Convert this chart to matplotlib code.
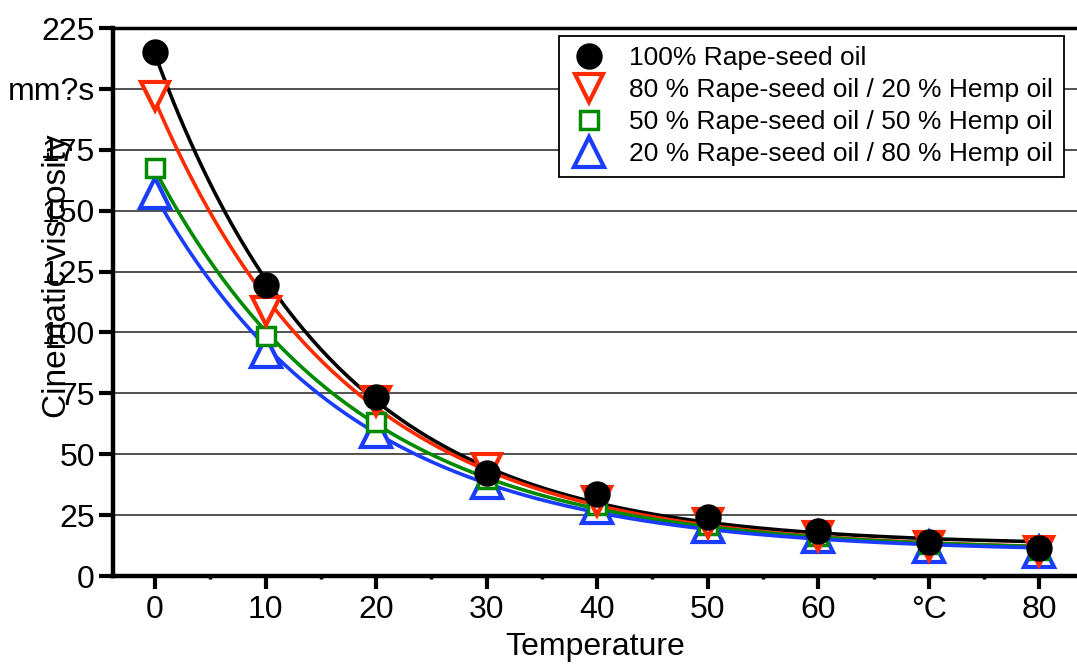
from matplotlib import pyplot as plt
from matplotlib.ticker import MultipleLocator
import numpy as np

# temperature in degC
temps = [0, 10, 20, 30, 40, 50, 60, 70, 80]

# kinematic viscosity mm2/s
rape100 = [215.1, 119.5, 73.3, 42.2, 33.8, 24.4, 18.3, 14.0, 11.4]
rape80 = [197.0, 109.0, 72.0, 44.5, 31.0, 21.8, 16.4, 12.3, 10.3]
rape50 = [167.5, 98.5, 63.2, 40.0, 29.0, 21.0, 16.5, 13.0, 10.8]
rape20 = [157.3, 92.0, 59.0, 38.2, 28.0, 20.0, 16.0, 12.0, 9.9]

labels = ["100% Rape-seed oil",
          "80 % Rape-seed oil / 20 % Hemp oil",
          "50 % Rape-seed oil / 50 % Hemp oil",
          "20 % Rape-seed oil / 80 % Hemp oil"]

yticks = [0, 25, 50, 75, 100, 125, 150, 175, 200, 225]
ytick_labels = ["0", "25", "50", "75", "100", "125", "150", "175", "mm?s", "225"]
xticks = [0, 10, 20, 30, 40, 50, 60, 70, 80]
xtick_labels = ["0", "10", "20", "30", "40", "50", "60", "°C", "80"]


def fit_decay(x, y):
    # y = a*exp(-b*x) + c, brute force over b, least squares for a and c
    x = np.asarray(x, float)
    y = np.asarray(y, float)
    best = None
    for b in np.linspace(0.005, 0.2, 400):
        A = np.column_stack([np.exp(-b * x), np.ones_like(x)])
        coef = np.linalg.lstsq(A, y, rcond=None)[0]
        err = np.sum((A @ coef - y) ** 2)
        if best is None or err < best[0]:
            best = (err, b, coef)
    _, b, (a, c) = best
    return lambda t: a * np.exp(-b * t) + c


plt.rcParams['font.family'] = ['Liberation Sans', 'DejaVu Sans']

fig = plt.figure(figsize=(10.77, 6.67), dpi=100)
ax = fig.add_axes([0.1049, 0.1364, 0.8951, 0.8216])

series = [
    (rape100, 'black', 'o', 18, dict(markerfacecolor='black')),
    (rape80, '#ff2a00', 'v', 20, dict(markerfacecolor='white', markeredgewidth=3)),
    (rape50, '#008a00', 's', 13, dict(markerfacecolor='white', markeredgewidth=2.5)),
    (rape20, '#1a3cff', '^', 21, dict(markerfacecolor='white', markeredgewidth=3)),
]

tt = np.linspace(0, 80, 300)
# curves first, markers on top
for vals, col, m, ms, kw in series:
    f = fit_decay(temps, vals)
    ax.plot(tt, f(tt), color=col, lw=2.6, zorder=2)

handles = []
for (vals, col, m, ms, kw), lab in zip(series[::-1], labels[::-1]):
    h, = ax.plot(temps, vals, linestyle='none', marker=m, markersize=ms,
                 markeredgecolor=col, color=col, label=lab, zorder=3, **kw)
    handles.append(h)
handles = handles[::-1]

ax.set_xlim(-3.8, 83.4)
ax.set_ylim(0, 225)
ax.set_xticks(xticks)
ax.set_xticklabels(xtick_labels)
ax.xaxis.set_minor_locator(MultipleLocator(5))
ax.set_yticks(yticks)
ax.set_yticklabels(ytick_labels)

ax.grid(axis='y', color='#333333', lw=1.2)
ax.set_axisbelow(True)

for s in ['left', 'bottom']:
    ax.spines[s].set_linewidth(3.2)
ax.spines['top'].set_linewidth(2.5)
ax.spines['right'].set_visible(False)

ax.tick_params(axis='y', which='major', direction='out', length=10, width=3,
               labelsize=23, pad=3)
ax.tick_params(axis='x', which='major', direction='out', length=9, width=3,
               labelsize=23, pad=5)
ax.tick_params(axis='x', which='minor', direction='out', length=2, width=2.5)

ax.set_xlabel("Temperature", fontsize=23, va='top')
ax.xaxis.set_label_coords(0.5, -0.103)
ax.set_ylabel("Cinematic viscosity", fontsize=24, va='center')
ax.yaxis.set_label_coords(-0.058, 0.547)

leg = ax.legend(handles=handles, loc='upper right', bbox_to_anchor=(0.986, 0.986),
                borderaxespad=0, fontsize=19, frameon=True, fancybox=False,
                edgecolor='black', framealpha=1, handletextpad=0.75,
                labelspacing=0.3, borderpad=0.4, handlelength=1.5)
leg.get_frame().set_linewidth(1.3)

fig.savefig('out.png', dpi=100)
